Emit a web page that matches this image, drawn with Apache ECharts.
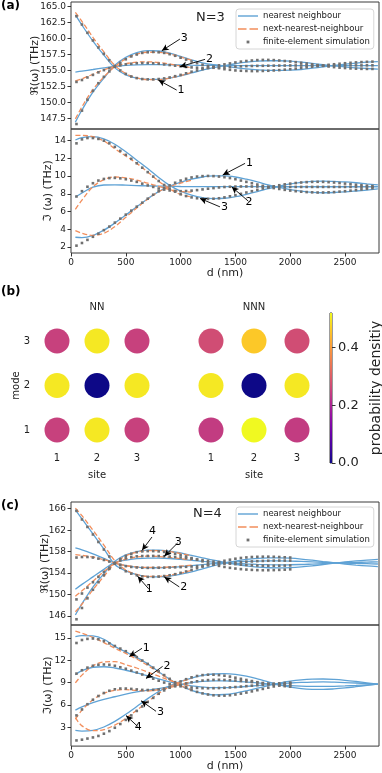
<!DOCTYPE html>
<html><head><meta charset="utf-8">
<script src="https://cdn.jsdelivr.net/npm/echarts@6/dist/echarts.min.js"></script>
<style>html,body{margin:0;padding:0;background:#fff}#c{width:382px;height:773px}</style>
</head><body><div id="c"></div><script>
// ---------- x grids ----------
const dNN = [40,100,200,300,400,500,600,700,800,900,1000,1100,1200,1300,1400,1500,1600,1700,1800,1900,2000,2100,2200,2300,2400,2500,2600,2700,2800];
const dNNN = [40,100,200,300,400,500,600,700,800,900,1000,1100];
const dFEM3 = [50,100,150,200,250,300,350,400,450,500,550,600,650,700,750,800,850,900,950,1000,1050,1100,1150,1200,1250,1300,1350,1400,1450,1500,1550,1600,1650,1700,1750,1800,1850,1900,1950,2000,2050,2100,2150,2200,2250,2300,2350,2400,2450,2500,2550,2600,2650,2700,2750];
const dFEM4 = [50,100,150,200,250,300,350,400,450,500,550,600,650,700,750,800,850,900,950,1000,1050,1100,1150,1200,1250,1300,1350,1400,1450,1500,1550,1600,1650,1700,1750,1800,1850,1900,1950,2000];

// ---------- tick labels ----------
const xTicks = [0,500,1000,1500,2000,2500];
const reTicks3 = [147.5,150,152.5,155,157.5,160,162.5,165];
const imTicks3 = [2,4,6,8,10,12,14];
const reTicks4 = [146,150,154,158,162,166];
const imTicks4 = [3,6,9,12,15];
const cbTicks = [0,0.2,0.4];
const siteTicks = [1,2,3];
const modeTicks = [1,2,3];

// ---------- (a) N=3, real part ----------
const reNN3_H = [163.7,162.1,159.6,157.4,155.4,154.3,153.8,153.6,153.6,153.8,154.15,154.6,155.05,155.45,155.75,156.05,156.3,156.45,156.52,156.52,156.45,156.3,156.1,155.9,155.72,155.55,155.4,155.3,155.22];
const reNN3_L = [146.9,148.8,151.6,153.8,155.8,157.05,157.8,158.1,158.05,157.7,157.2,156.65,156.2,155.9,155.7,155.45,155.25,155.1,155.02,155.0,155.05,155.15,155.35,155.55,155.78,155.98,156.15,156.3,156.38];
const reNN3_M = [154.75,154.9,155.15,155.4,155.62,155.78,155.87,155.9,155.9,155.88,155.85,155.82,155.8,155.78,155.76,155.75,155.75,155.75,155.75,155.75,155.75,155.75,155.75,155.75,155.75,155.75,155.75,155.75,155.75];
const reNNN3_H = [164.1,162.7,160.2,157.9,155.8,154.5,153.85,153.55,153.55,153.8,154.2,154.7];
const reNNN3_L = [147.4,149.3,152.0,154.0,155.6,156.85,157.55,157.85,157.85,157.6,157.1,156.6];
const reNNN3_M = [153.35,153.7,154.4,155.1,155.65,156.05,156.3,156.35,156.25,156.0,155.7,155.45];
const reFEM3_H = [163.5,162.2,160.9,159.7,158.6,157.6,156.6,155.7,155.0,154.45,
154.05,153.8,153.65,153.6,153.6,153.65,153.75,153.9,154.1,154.3,
154.55,154.8,155.0,155.2,155.4,155.6,155.8,155.95,156.1,156.25,
156.38,156.48,156.56,156.62,156.65,156.65,156.62,156.56,156.48,156.4,
156.3,156.2,156.08,155.96,155.84,155.72,155.62,155.52,155.44,155.38,
155.32,155.28,155.25,155.24,155.24];
const reFEM3_L = [146.6,148.7,150.4,151.8,153.0,154.0,154.85,155.6,156.2,156.75,
157.2,157.5,157.75,157.85,157.9,157.85,157.75,157.55,157.3,157.0,
156.7,156.4,156.15,155.9,155.7,155.5,155.35,155.2,155.1,155.0,
154.95,154.92,154.9,154.9,154.92,154.95,155.0,155.05,155.12,155.2,
155.28,155.38,155.48,155.58,155.68,155.78,155.88,155.97,156.05,156.13,
156.2,156.26,156.31,156.35,156.38];
const reFEM3_M = [153.2,153.5,153.9,154.3,154.7,155.05,155.35,155.6,155.8,155.95,
156.05,156.12,156.15,156.15,156.12,156.05,155.95,155.85,155.75,155.65,
155.55,155.48,155.43,155.4,155.4,155.42,155.46,155.5,155.55,155.6,
155.65,155.68,155.7,155.72,155.73,155.74,155.75,155.76,155.77,155.78,
155.78,155.78,155.78,155.78,155.78,155.78,155.78,155.78,155.78,155.78,
155.79,155.79,155.79,155.8,155.8];

// ---------- (a) N=3, imaginary part ----------
const imNN3_H = [14.08,14.35,14.45,14.2,13.6,12.75,11.8,10.85,9.85,8.95,8.3,7.85,7.57,7.47,7.5,7.68,7.95,8.25,8.58,8.88,9.12,9.3,9.4,9.44,9.4,9.35,9.25,9.12,9.0];
const imNN3_L = [3.1,3.05,3.3,3.9,4.7,5.6,6.55,7.45,8.25,8.87,9.3,9.65,9.9,10.02,10.02,9.9,9.65,9.35,9.0,8.72,8.48,8.3,8.17,8.12,8.15,8.22,8.32,8.43,8.55];
const imNN3_M = [7.65,8.1,8.75,9.0,9.02,8.98,8.93,8.9,8.87,8.85,8.83,8.82,8.82,8.82,8.82,8.82,8.82,8.81,8.8,8.8,8.8,8.8,8.8,8.8,8.8,8.8,8.8,8.8,8.8];
const imNNN3_H = [14.6,14.6,14.45,13.97,13.1,12.27,11.44,10.46,9.44,8.57,7.93,7.66];
const imNNN3_L = [3.85,3.55,3.32,3.55,4.3,5.35,6.4,7.4,8.25,8.8,9.2,9.55];
const imNNN3_M = [6.25,7.3,8.8,9.6,9.9,9.8,9.55,9.2,8.85,8.5,8.27,8.2];
const imFEM3_H = [13.7,14.15,14.3,14.3,14.2,14.0,13.7,13.3,12.85,12.4,
11.95,11.45,10.95,10.45,9.95,9.45,9.0,8.6,8.25,7.95,
7.75,7.6,7.5,7.45,7.43,7.45,7.5,7.6,7.72,7.85,
8.0,8.15,8.3,8.45,8.6,8.72,8.85,8.97,9.07,9.15,
9.22,9.28,9.32,9.35,9.36,9.35,9.32,9.28,9.22,9.16,
9.1,9.03,8.97,8.92,8.88];
const imFEM3_L = [2.15,2.45,2.8,3.15,3.5,3.9,4.3,4.75,5.2,5.65,
6.1,6.55,7.0,7.45,7.9,8.3,8.65,8.95,9.25,9.5,
9.7,9.85,9.95,10.0,10.02,10.0,9.95,9.88,9.78,9.65,
9.5,9.35,9.2,9.05,8.9,8.77,8.65,8.55,8.45,8.37,
8.3,8.24,8.2,8.17,8.15,8.15,8.17,8.2,8.25,8.3,
8.36,8.42,8.5,8.57,8.63];
const imFEM3_M = [7.7,8.3,8.8,9.2,9.5,9.68,9.78,9.8,9.75,9.65,
9.5,9.35,9.15,8.95,8.78,8.6,8.48,8.38,8.32,8.3,
8.32,8.36,8.42,8.5,8.58,8.65,8.72,8.77,8.8,8.82,
8.83,8.83,8.83,8.82,8.8,8.79,8.78,8.78,8.78,8.78,
8.78,8.78,8.78,8.78,8.78,8.78,8.78,8.78,8.78,8.78,
8.78,8.78,8.78,8.78,8.78];

// ---------- (b) probability density ----------
const probNN = [[0.25,0.5,0.25],[0.5,0,0.5],[0.25,0.5,0.25]];   // modes 1..3, sites 1..3
const probNNN = [[0.24,0.52,0.24],[0.5,0,0.5],[0.27,0.46,0.27]];
const probMax = 0.52;

// ---------- (c) N=4, real part ----------
const reNN4_H4 = [165.8,164.1,161.3,158.5,155.6,154.4,153.7,153.35,153.3,153.45,153.8,154.25,154.8,155.35,155.85,156.25,156.55,156.75,156.85,156.85,156.78,156.62,156.4,156.15,155.92,155.7,155.5,155.33,155.2];
const reNN4_L4 = [146.2,148.3,151.4,153.9,156.2,157.4,158.0,158.3,158.3,158.1,157.75,157.3,156.85,156.4,156.0,155.65,155.35,155.12,155.0,154.97,155.02,155.15,155.35,155.6,155.85,156.08,156.28,156.43,156.55];
const reNN4_H3 = [158.7,158.35,157.6,156.75,155.85,155.4,155.1,155.0,155.0,155.05,155.2,155.38,155.58,155.78,155.95,156.08,156.18,156.24,156.27,156.27,156.24,156.18,156.1,156.02,155.94,155.86,155.8,155.75,155.7];
const reNN4_L3 = [151.0,151.9,153.3,154.7,156.0,156.4,156.7,156.8,156.8,156.72,156.55,156.38,156.2,156.05,155.92,155.8,155.7,155.62,155.57,155.55,155.56,155.6,155.68,155.76,155.85,155.93,156.0,156.05,156.1];
const reNNN4_H4 = [166.1,164.7,162.0,159.2,156.3,154.6,153.75,153.4,153.4,153.6,154.0,154.5];
const reNNN4_H3 = [157.45,157.3,157.0,156.5,155.9,155.4,155.15,155.05,155.05,155.15,155.3,155.5];
const reNNN4_L3 = [149.7,150.7,152.5,154.3,155.8,156.6,157.0,157.15,157.1,156.95,156.7,156.45];
const reNNN4_L4 = [146.8,148.2,150.9,153.4,155.8,157.2,157.9,158.2,158.2,158.0,157.65,157.2];
const reFEM4_H4 = [165.6,164.0,162.6,161.2,159.8,158.4,157.1,155.9,155.0,154.35,
153.9,153.6,153.4,153.3,153.3,153.35,153.45,153.6,153.8,154.05,
154.3,154.6,154.9,155.2,155.5,155.8,156.05,156.3,156.5,156.68,
156.82,156.92,157.0,157.04,157.06,157.06,157.04,157.0,156.95,156.9];
const reFEM4_L4 = [145.4,147.5,149.3,150.9,152.3,153.6,154.8,155.8,156.6,157.2,
157.6,157.9,158.05,158.1,158.1,158.05,157.95,157.8,157.6,157.35,
157.1,156.8,156.5,156.2,155.9,155.6,155.35,155.15,154.98,154.85,
154.74,154.66,154.6,154.56,154.54,154.54,154.56,154.6,154.64,154.7];
const reFEM4_H3 = [156.9,157.0,157.0,156.9,156.7,156.45,156.15,155.85,155.55,155.3,
155.15,155.05,155.0,154.98,154.98,155.0,155.02,155.05,155.08,155.12,
155.17,155.23,155.3,155.38,155.47,155.57,155.67,155.77,155.87,155.96,
156.05,156.12,156.18,156.23,156.27,156.3,156.32,156.33,156.33,156.33];
const reFEM4_L3 = [149.1,150.2,151.3,152.3,153.3,154.2,155.0,155.75,156.35,156.75,
157.0,157.12,157.18,157.2,157.2,157.18,157.14,157.08,157.0,156.9,
156.8,156.68,156.55,156.42,156.28,156.14,156.0,155.88,155.77,155.67,
155.58,155.51,155.45,155.41,155.38,155.37,155.37,155.38,155.4,155.43];

// ---------- (c) N=4, imaginary part ----------
const imNN4_H4 = [15.15,15.3,15.25,14.8,13.85,13.1,12.35,11.5,10.45,9.45,8.6,7.95,7.55,7.35,7.4,7.6,7.9,8.25,8.6,8.92,9.18,9.36,9.46,9.48,9.42,9.3,9.14,8.96,8.78];
const imNN4_L4 = [2.6,2.5,2.6,3.05,3.8,4.75,5.8,6.85,7.8,8.55,9.15,9.6,9.95,10.15,10.2,10.1,9.85,9.5,9.1,8.7,8.4,8.2,8.1,8.08,8.15,8.28,8.45,8.63,8.8];
const imNN4_H3 = [10.05,10.6,11.05,11.12,10.95,10.65,10.3,9.9,9.5,9.1,8.8,8.55,8.4,8.32,8.32,8.38,8.48,8.6,8.72,8.84,8.94,9.02,9.07,9.08,9.05,9.0,8.94,8.87,8.8];
const imNN4_L3 = [5.3,5.75,6.3,6.75,7.1,7.45,7.75,8.0,8.2,8.45,8.75,9.0,9.15,9.22,9.22,9.17,9.07,8.95,8.82,8.7,8.6,8.53,8.49,8.48,8.5,8.55,8.62,8.7,8.78];
const imNNN4_H4 = [15.9,15.6,15.05,14.35,13.6,12.9,12.15,11.3,10.35,9.4,8.6,8.0];
const imNNN4_H3 = [8.95,10.0,11.25,11.75,11.8,11.4,10.95,10.4,9.85,9.3,8.85,8.5];
const imNNN4_L3 = [4.1,5.3,6.7,7.55,7.95,8.05,7.95,7.9,8.05,8.35,8.75,9.1];
const imNNN4_L4 = [4.3,3.2,2.55,2.7,3.3,4.2,5.3,6.45,7.55,8.45,9.1,9.55];
const imFEM4_H4 = [14.3,14.7,14.85,14.9,14.8,14.55,14.25,13.9,13.55,13.2,
12.8,12.4,11.95,11.5,11.0,10.5,10.0,9.5,9.05,8.65,
8.3,8.0,7.75,7.55,7.4,7.3,7.25,7.25,7.3,7.4,
7.52,7.66,7.82,7.98,8.15,8.32,8.48,8.63,8.77,8.9];
const imFEM4_L4 = [1.25,1.35,1.5,1.65,1.85,2.15,2.5,2.95,3.45,4.0,
4.6,5.2,5.8,6.4,6.95,7.5,7.95,8.4,8.8,9.15,
9.45,9.7,9.88,10.0,10.05,10.05,10.0,9.92,9.8,9.65,
9.5,9.35,9.2,9.05,8.92,8.8,8.7,8.6,8.52,8.45];
const imFEM4_H3 = [10.2,10.65,11.0,11.25,11.38,11.42,11.38,11.25,11.05,10.85,
10.6,10.35,10.08,9.8,9.52,9.25,9.0,8.8,8.62,8.5,
8.4,8.33,8.28,8.25,8.24,8.25,8.27,8.3,8.35,8.4,
8.46,8.52,8.58,8.65,8.72,8.78,8.84,8.9,8.96,9.0];
const imFEM4_L3 = [4.6,5.4,6.1,6.7,7.2,7.6,7.9,8.1,8.2,8.2,
8.15,8.08,8.02,8.0,8.02,8.08,8.18,8.32,8.5,8.7,
8.88,9.04,9.17,9.27,9.33,9.36,9.37,9.35,9.32,9.27,
9.21,9.14,9.07,9.0,8.93,8.86,8.8,8.74,8.69,8.65];

// ---------- mode-number annotations (label, arrow tail, arrow head in data units) ----------
const annARe = [['3',[994,159.92],[828,158.09]],['2',[1223,156.74],[994,155.58]],['1',[964,151.92],[797,153.49]]];
const annAIm = [['1',[1588,11.44],[1384,10.12]],['2',[1618,7.17],[1466,8.79]],['3',[1359,6.53],[1177,7.48]]];
const annCRe = [['4',[739,160.73],[648,158.24]],['3',[973,159.62],[851,157.13]],['1',[709,151.06],[608,153.4]],['2',[988,151.43],[851,153.29]]];
const annCIm = [['1',[648,13.59],[532,12.49]],['2',[836,11.17],[684,9.55]],['3',[776,5.15],[639,6.56]],['4',[608,3.13],[502,4.58]]];

// ---------- build ----------
const FF = 'DejaVu Sans', TXT = '#222', AX = '#333';
const NNc = '#5fa2d5', NNNc = '#f28e5c', FEMc = '#707070';
const plasma = ['#0d0887','#41049d','#6a00a8','#8f0da4','#b12a90','#cc4778','#e16462','#f2844b','#fca636','#fcce25','#f0f921'];
const N1='nearest neighbour', N2='next-nearest-neighbour', N3='finite-element simulation';
const pairs = (xs, ys) => xs.map((x,i)=>[x, ys[i]]);
function nn(g, ys, ann){
  const s = {type:'line', name:N1, xAxisIndex:g, yAxisIndex:g, data:pairs(dNN, ys), symbol:'none', smooth:0.35,
    lineStyle:{color:NNc, width:1.3}, itemStyle:{color:NNc}, z:2, animation:false};
  if (ann) s.markLine = {silent:true, symbol:['none','arrow'], symbolSize:[5,7], animation:false, precision:3,
    lineStyle:{color:'#000', width:0.9, type:'solid'},
    label:{show:true, position:'start', formatter:'{b}', color:'#000', fontSize:11, distance:1, fontFamily:FF},
    data: ann.map(a => [{name:a[0], coord:a[1]}, {coord:a[2]}])};
  return s;
}
const nnn = (g, ys) => ({type:'line', name:N2, xAxisIndex:g, yAxisIndex:g, data:pairs(dNNN, ys), symbol:'none', smooth:0.35,
    lineStyle:{color:NNNc, width:1.3, type:[5,2.5]}, itemStyle:{color:NNNc}, z:3, animation:false});
const fem = (g, xs, ys) => ({type:'scatter', name:N3, xAxisIndex:g, yAxisIndex:g, data:pairs(xs, ys), symbol:'rect', symbolSize:2.6,
    itemStyle:{color:FEMc, opacity:1}, z:4, animation:false});

function xAx(g, labels){
  return {type:'value', gridIndex:g, min:0, max:2810, axisLine:{show:false}, splitLine:{show:false},
    axisTick:{show:labels, customValues:xTicks, length:3.5, lineStyle:{color:AX}},
    axisLabel:{show:labels, customValues:xTicks, formatter:v=>String(v), fontSize:9, color:TXT, margin:5, fontFamily:FF},
    name: labels ? 'd (nm)' : '', nameLocation:'middle', nameGap:14, nameTextStyle:{fontSize:11, color:TXT, fontFamily:FF}};
}
function yAx(g, min, max, ticks, dec, name, gap){
  return {type:'value', gridIndex:g, min, max, axisLine:{show:false}, splitLine:{show:false},
    axisTick:{show:true, customValues:ticks, length:3.5, lineStyle:{color:AX}},
    axisLabel:{customValues:ticks, formatter:v=>v.toFixed(dec), fontSize:9, color:TXT, margin:5, fontFamily:FF},
    name, nameLocation:'middle', nameGap:gap, nameMoveOverlap:false, nameTextStyle:{fontSize:11, color:TXT, fontFamily:FF}};
}
const gb = {show:true, borderColor:'#3a3a3a', borderWidth:1, backgroundColor:'rgba(0,0,0,0)'};
const grids = [
  Object.assign({left:71, top:2, width:308, height:127}, gb),
  Object.assign({left:71, top:129, width:308, height:124}, gb),
  {left:37, top:318.75, width:120, height:133.5},
  {left:189.5, top:318.75, width:129, height:133.5},
  Object.assign({left:330, top:313, width:8, height:150}, gb),
  Object.assign({left:71, top:502, width:308, height:123}, gb),
  Object.assign({left:71, top:625, width:308, height:123}, gb)
];
const siteAx = (g) => ({type:'value', gridIndex:g, min:0.5, max:3.5, axisLine:{show:false}, axisTick:{show:false}, splitLine:{show:false},
  axisLabel:{customValues:siteTicks, fontSize:10, color:TXT, margin:1, fontFamily:FF},
  name:'site', nameLocation:'middle', nameGap:18, nameTextStyle:{fontSize:10, color:TXT, fontFamily:FF}});
const modeAx = (g, show) => ({type:'value', gridIndex:g, min:0.5, max:3.5, axisLine:{show:false}, axisTick:{show:false}, splitLine:{show:false},
  axisLabel:{show:show, customValues:modeTicks, fontSize:10, color:TXT, margin:7, fontFamily:FF},
  name: show ? 'mode' : '', nameLocation:'middle', nameGap:16, nameMoveOverlap:false, nameTextStyle:{fontSize:10, color:TXT, fontFamily:FF}});

const xAxis = [xAx(0,false), xAx(1,true), siteAx(2), siteAx(3),
  {type:'category', gridIndex:4, data:['cb'], show:false}, xAx(5,false), xAx(6,true)];
const yAxis = [
  yAx(0, 145.82, 165.73, reTicks3, 1, 'ℜ(ω) (THz)', 30),
  yAx(1, 1.32, 15.32, imTicks3, 0, 'ℑ (ω) (THz)', 17),
  modeAx(2, true), modeAx(3, false),
  {type:'value', gridIndex:4, position:'right', min:0, max:probMax, axisLine:{show:false}, splitLine:{show:false},
    axisTick:{show:true, customValues:cbTicks, length:3.5, lineStyle:{color:AX}},
    axisLabel:{customValues:cbTicks, formatter:v=>v.toFixed(1), fontSize:13, color:TXT, margin:6, fontFamily:FF},
    name:'probability densitiy', nameLocation:'middle', nameRotate:90, nameGap:37, nameMoveOverlap:false,
    nameTextStyle:{fontSize:14, color:TXT, fontFamily:FF}},
  yAx(5, 144.33, 167.25, reTicks4, 0, 'ℜ(ω) (THz)', 20),
  yAx(6, 0.49, 16.71, imTicks4, 0, 'ℑ(ω) (THz)', 17)
];

const cells = (P) => { const out=[]; P.forEach((row,mi)=>row.forEach((p,si)=>out.push([siteTicks[si], modeTicks[mi], p]))); return out; };

const series = [
  nn(0, reNN3_H, annARe), nn(0, reNN3_L), nn(0, reNN3_M),
  nnn(0, reNNN3_H), nnn(0, reNNN3_L), nnn(0, reNNN3_M),
  fem(0, dFEM3, reFEM3_H), fem(0, dFEM3, reFEM3_L), fem(0, dFEM3, reFEM3_M),
  nn(1, imNN3_H, annAIm), nn(1, imNN3_L), nn(1, imNN3_M),
  nnn(1, imNNN3_H), nnn(1, imNNN3_L), nnn(1, imNNN3_M),
  fem(1, dFEM3, imFEM3_H), fem(1, dFEM3, imFEM3_L), fem(1, dFEM3, imFEM3_M),
  nn(5, reNN4_H4, annCRe), nn(5, reNN4_L4), nn(5, reNN4_H3), nn(5, reNN4_L3),
  nnn(5, reNNN4_H4), nnn(5, reNNN4_H3), nnn(5, reNNN4_L3), nnn(5, reNNN4_L4),
  fem(5, dFEM4, reFEM4_H4), fem(5, dFEM4, reFEM4_L4), fem(5, dFEM4, reFEM4_H3), fem(5, dFEM4, reFEM4_L3),
  nn(6, imNN4_H4, annCIm), nn(6, imNN4_L4), nn(6, imNN4_H3), nn(6, imNN4_L3),
  nnn(6, imNNN4_H4), nnn(6, imNNN4_H3), nnn(6, imNNN4_L3), nnn(6, imNNN4_L4),
  fem(6, dFEM4, imFEM4_H4), fem(6, dFEM4, imFEM4_L4), fem(6, dFEM4, imFEM4_H3), fem(6, dFEM4, imFEM4_L3)
];
const scNN = series.length;
series.push({type:'scatter', name:'NN', xAxisIndex:2, yAxisIndex:2, data:cells(probNN), symbol:'circle', symbolSize:25, itemStyle:{opacity:1}, animation:false});
series.push({type:'scatter', name:'NNN', xAxisIndex:3, yAxisIndex:3, data:cells(probNNN), symbol:'circle', symbolSize:25, itemStyle:{opacity:1}, animation:false});
series.push({type:'bar', name:'colorbar', xAxisIndex:4, yAxisIndex:4, data:[probMax], barWidth:'100%', animation:false, silent:true,
  itemStyle:{color:{type:'linear', x:0, y:1, x2:0, y2:0, colorStops: plasma.map((c,i)=>({offset:i/(plasma.length-1), color:c}))}}});

const legendBase = {orient:'vertical', left:236, itemWidth:20, itemHeight:10, itemGap:3, padding:[2,4,2,2],
  borderColor:'#cccccc', borderWidth:0.8, borderRadius:3, backgroundColor:'rgba(255,255,255,0.85)',
  textStyle:{fontSize:8.5, color:TXT, fontFamily:FF}, selectedMode:false, itemStyle:{borderWidth:0},
  data:[
    {name:N1, icon:'path://M0 0M20 10M0 4.3h20v1.4H0z'},
    {name:N2, icon:'path://M0 0M20 10M0 4.3h8.5v1.4H0z M11.5 4.3h8.5v1.4h-8.5z'},
    {name:N3, icon:'path://M0 0M20 10M8.6 3.6h2.8v2.8h-2.8z'}]};

const title = [
  {text:'(a)', left:1, top:0, padding:0, textStyle:{fontSize:12, fontWeight:'bold', color:'#000', fontFamily:FF}},
  {text:'(b)', left:1, top:286, padding:0, textStyle:{fontSize:12, fontWeight:'bold', color:'#000', fontFamily:FF}},
  {text:'(c)', left:1, top:500, padding:0, textStyle:{fontSize:12, fontWeight:'bold', color:'#000', fontFamily:FF}},
  {text:'N=3', left:196, top:11, padding:0, textStyle:{fontSize:13, fontWeight:'normal', color:TXT, fontFamily:FF}},
  {text:'N=4', left:193, top:507, padding:0, textStyle:{fontSize:13, fontWeight:'normal', color:TXT, fontFamily:FF}},
  {text:'NN', left:97, top:302, padding:0, textAlign:'center', textStyle:{fontSize:10, fontWeight:'normal', color:TXT, fontFamily:FF}},
  {text:'NNN', left:254, top:302, padding:0, textAlign:'center', textStyle:{fontSize:10, fontWeight:'normal', color:TXT, fontFamily:FF}}
];

const chart = echarts.init(document.getElementById('c'), null, {renderer:'canvas'});
chart.setOption({
  animation:false, backgroundColor:'#fff', textStyle:{fontFamily:FF},
  title, grid:grids, xAxis, yAxis, series,
  legend:[Object.assign({top:9}, legendBase), Object.assign({top:507}, legendBase)],
  visualMap:{type:'continuous', show:false, min:0, max:probMax, dimension:2, seriesIndex:[scNN, scNN+1], inRange:{color:plasma}}
});
</script></body></html>
